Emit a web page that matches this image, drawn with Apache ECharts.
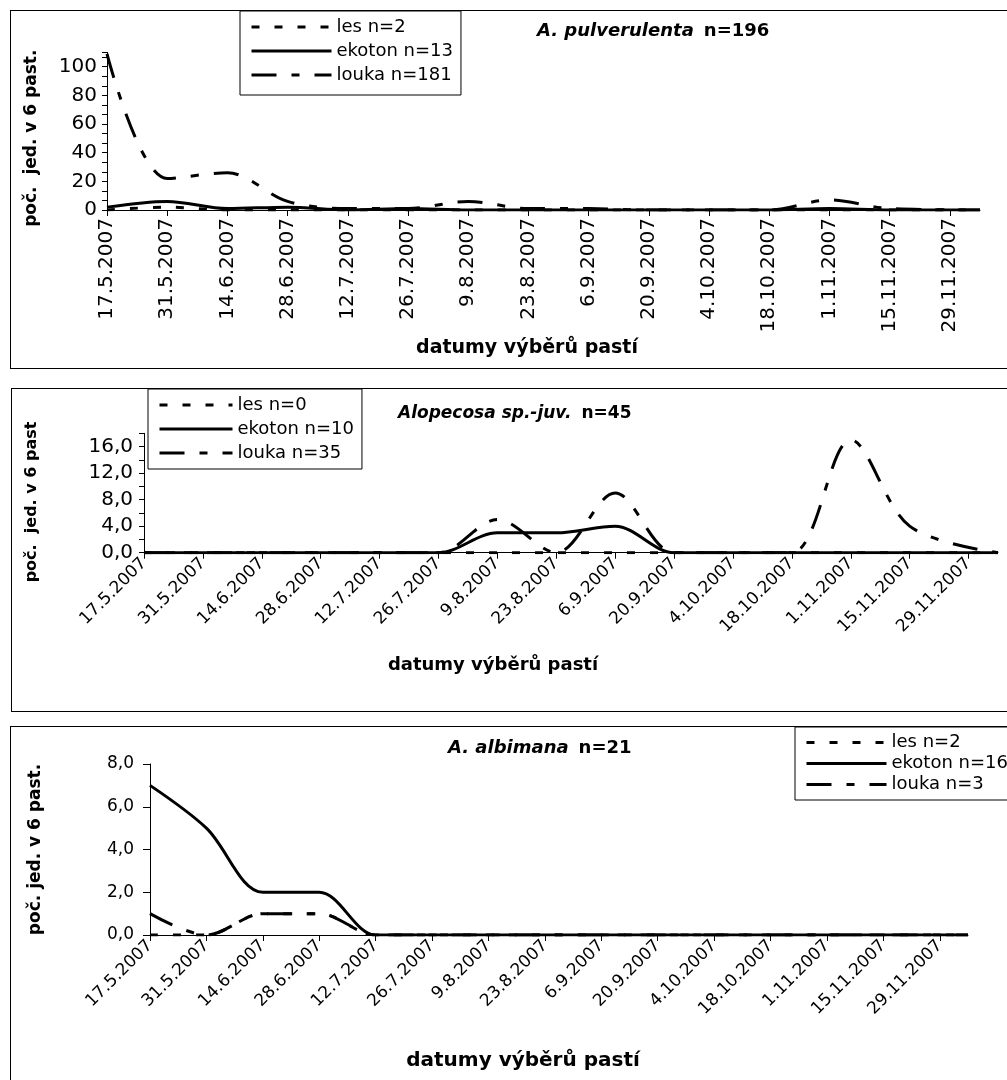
<!DOCTYPE html>
<html><head><meta charset="utf-8">
<script src="https://cdn.jsdelivr.net/npm/echarts@6/dist/echarts.min.js"></script>
<style>
html,body{margin:0;padding:0;background:#fff;overflow:hidden;width:1007px;height:1080px;}
.frame{position:absolute;border:1px solid #000;background:#fff;}
.chart{position:absolute;left:0;top:0;}
</style></head>
<body>
<div class="frame" style="left:10px;top:10px;width:1100px;height:357px"><div id="c1" class="chart" style="width:1100px;height:357px"></div></div>
<div class="frame" style="left:11px;top:388px;width:1100px;height:322px"><div id="c2" class="chart" style="width:1100px;height:322px"></div></div>
<div class="frame" style="left:10px;top:726px;width:1100px;height:400px"><div id="c3" class="chart" style="width:1100px;height:400px"></div></div>
<script>
// ---- data ----
const sampleDates = ['17.5.2007','31.5.2007','14.6.2007','28.6.2007','12.7.2007','26.7.2007','9.8.2007','23.8.2007','6.9.2007','20.9.2007','4.10.2007','18.10.2007','1.11.2007','15.11.2007','6.12.2007'];
const tickLabels = ['17.5.2007','31.5.2007','14.6.2007','28.6.2007','12.7.2007','26.7.2007','9.8.2007','23.8.2007','6.9.2007','20.9.2007','4.10.2007','18.10.2007','1.11.2007','15.11.2007','29.11.2007'];

// A. pulverulenta n=196
const pulv_les    = [0, 2, 0, 0, 0, 0, 0, 0, 0, 0, 0, 0, 0, 0, 0];
const pulv_ekoton = [2, 6, 1, 2, 0, 1, 0, 0, 0, 0, 0, 0, 1, 0, 0];
const pulv_louka  = [109, 22, 26, 6, 1, 1, 6, 1, 1, 0, 0, 0, 7, 1, 0];
// Alopecosa sp.-juv. n=45
const alop_les    = [0, 0, 0, 0, 0, 0, 0, 0, 0, 0, 0, 0, 0, 0, 0];
const alop_ekoton = [0, 0, 0, 0, 0, 0, 3, 3, 4, 0, 0, 0, 0, 0, 0];
const alop_louka  = [0, 0, 0, 0, 0, 0, 5, 0, 9, 0, 0, 0, 17, 4, 0];
// A. albimana n=21
const albi_les    = [0, 0, 1, 1, 0, 0, 0, 0, 0, 0, 0, 0, 0, 0, 0];
const albi_ekoton = [7, 5, 2, 2, 0, 0, 0, 0, 0, 0, 0, 0, 0, 0, 0];
const albi_louka  = [1, 0, 1, 1, 0, 0, 0, 0, 0, 0, 0, 0, 0, 0, 0];

// ---- helpers ----
const FONT = 'DejaVu Sans';
function dayOff(s){const p=s.split('.').map(Number);return Math.round((Date.UTC(p[2],p[1]-1,p[0])-Date.UTC(2007,4,17))/86400000);}
const tickDays = tickLabels.map(dayOff);
const labelOf = {}; tickLabels.forEach(l=>{labelOf[dayOff(l)]=l;});
const lastDay = dayOff(sampleDates[sampleDates.length-1]);
const DASH_LES = [8,15], DASH_LOUKA = [25,15,8,15];

function series(name, vals, dash, z){
  return {name, type:'line', data: sampleDates.map((d,i)=>[dayOff(d), vals[i]]), smooth:0.33,
    symbol:'none', showSymbol:false, legendIcon:'none',
    lineStyle:{color:'#000', width:3, type:dash}, itemStyle:{color:'#000'}, z:z, silent:true};
}
function xAxis(rot, fs, margin){
  return {type:'value', min:0, max:lastDay, interval:14,
    axisLine:{show:true, lineStyle:{color:'#000', width:1}},
    axisTick:{show:true, length:6, inside:false, customValues:tickDays, lineStyle:{color:'#000'}},
    axisLabel:{customValues:tickDays, rotate:rot, margin:margin, color:'#000', fontFamily:FONT, fontSize:fs,
      formatter:v=>labelOf[v]||''},
    splitLine:{show:false}};
}
function yAxis(max, interval, minorSplit, fs, fmt, showMax, margin, tickLen){
  return {type:'value', min:0, max:max, interval:interval,
    axisLine:{show:true, lineStyle:{color:'#000', width:1}},
    axisTick:{show:true, length:tickLen||5, lineStyle:{color:'#000'}},
    minorTick:{show: minorSplit>0, splitNumber: minorSplit||1, length:tickLen||5, lineStyle:{color:'#000'}},
    axisLabel:{color:'#000', fontFamily:FONT, fontSize:fs, margin:margin||8, showMaxLabel:!!showMax, formatter:fmt},
    splitLine:{show:false}, minorSplitLine:{show:false}};
}
function legend(names, left, top, opts){
  return Object.assign({show:true, orient:'vertical', left, top, data:names,
    backgroundColor:'#fff', borderColor:'#000', borderWidth:1, borderRadius:0,
    itemWidth:80, itemHeight:10, selectedMode:false,
    itemStyle:{color:'rgba(0,0,0,0)', borderWidth:0, opacity:0},
    lineStyle:{color:'#000', width:3},
    textStyle:{color:'#000', fontFamily:FONT, fontSize:18, lineHeight:20}}, opts);
}
function title(it, rest, left, top, fs){
  return {text:'{i|'+it+'}  {b|'+rest+'}', left, top,
    textStyle:{rich:{i:{fontStyle:'italic', fontWeight:'bold', fontSize:fs, fontFamily:FONT, color:'#000'},
                      b:{fontWeight:'bold', fontSize:fs, fontFamily:FONT, color:'#000'}}}};
}
const axisNameStyle = (fs, pad)=>({color:'#000', fontFamily:FONT, fontWeight:'bold', fontSize:fs, padding:pad||0});
const comma = v => v.toFixed(1).replace('.', ',');

// ---- chart 1 ----
const c1 = echarts.init(document.getElementById('c1'), null, {renderer:'canvas'});
c1.setOption({animation:false,
  title: title('A. pulverulenta','n=196', 521, 6, 18),
  grid:{left:96, top:41.4, width:873, height:157.6, containLabel:false},
  legend: legend(['les n=2','ekoton n=13','louka n=181'], 229, 0, {padding:[6,8,10,10], itemGap:4}),
  xAxis: Object.assign(xAxis(90, 20, 8), {name:'datumy výběrů pastí', nameLocation:'middle', nameGap:129,
    nameTextStyle: axisNameStyle(19,[0,33,0,0])}),
  yAxis: Object.assign(yAxis(110, 20, 3, 20, undefined, false, 10, 5), {name:'poč.  jed. v 6 past.', nameLocation:'middle', nameRotate:90, nameGap:67,
    nameTextStyle: axisNameStyle(17,[0,14,0,0])}),
  series:[series('les n=2', pulv_les, DASH_LES, 3), series('ekoton n=13', pulv_ekoton, 'solid', 4), series('louka n=181', pulv_louka, DASH_LOUKA, 5)]
});

// ---- chart 2 ----
const c2 = echarts.init(document.getElementById('c2'), null, {renderer:'canvas'});
c2.setOption({animation:false,
  title: title('Alopecosa sp.-juv.','n=45', 381, 11, 17),
  grid:{left:132, top:44.3, width:854, height:119.4, containLabel:false},
  legend: legend(['les n=0','ekoton n=10','louka n=35'], 136, 0, {padding:[6,8,6,10], itemGap:4, itemWidth:73}),
  xAxis: Object.assign(xAxis(45, 17, 8), {name:'datumy výběrů pastí', nameLocation:'middle', nameGap:104,
    nameTextStyle: axisNameStyle(18,[0,156,0,0])}),
  yAxis: Object.assign(yAxis(18, 4, 2, 20, comma, false, 11, 5), {name:'poč.  jed. v 6 past', nameLocation:'middle', nameRotate:90, nameGap:104,
    nameTextStyle: axisNameStyle(16,[0,18,0,0])}),
  series:[series('les n=0', alop_les, DASH_LES, 3), series('ekoton n=10', alop_ekoton, 'solid', 4), series('louka n=35', alop_louka, DASH_LOUKA, 5)]
});

// ---- chart 3 ----
const c3 = echarts.init(document.getElementById('c3'), null, {renderer:'canvas'});
c3.setOption({animation:false,
  title: title('A. albimana','n=21', 432, 7, 18),
  grid:{left:139, top:37, width:818, height:171, containLabel:false},
  legend: legend(['les n=2','ekoton n=16','louka n=3'], 784, 0, {padding:[6,40,6,10], itemGap:2, textStyle:{color:'#000', fontFamily:FONT, fontSize:18, lineHeight:19}}),
  xAxis: Object.assign(xAxis(45, 17, 8), {name:'datumy výběrů pastí', nameLocation:'middle', nameGap:116,
    nameTextStyle: axisNameStyle(20,[0,72,0,0])}),
  yAxis: Object.assign(yAxis(8, 2, 0, 17, comma, true, 16, 7), {name:'poč. jed. v 6 past.', nameLocation:'middle', nameRotate:90, nameGap:106,
    nameTextStyle: axisNameStyle(17)}),
  series:[series('les n=2', albi_les, DASH_LES, 3), series('ekoton n=16', albi_ekoton, 'solid', 4), series('louka n=3', albi_louka, DASH_LOUKA, 5)]
});
</script>
</body></html>
